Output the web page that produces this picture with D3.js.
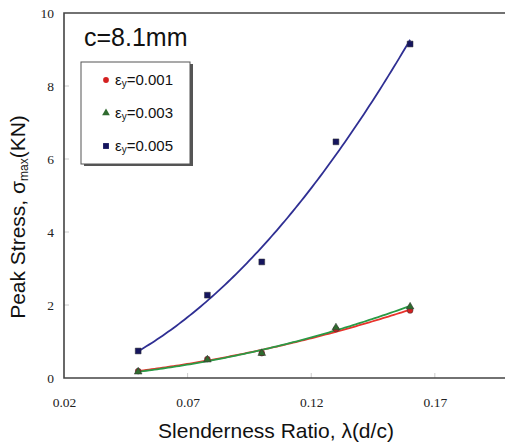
<!DOCTYPE html>
<html>
<head>
<meta charset="utf-8">
<script src="https://cdn.jsdelivr.net/npm/d3@7"></script>
<style>
  body { margin: 0; background: #fff; }
  .tick text { font-family: "Liberation Serif", "Times New Roman", serif; font-size: 13.5px; fill: #222; }
  .title { font-family: "Liberation Sans", Arial, sans-serif; fill: #111; }
</style>
</head>
<body>
<div id="vis"></div>
<script>
// slenderness ratio values (x)
var ratios = [0.05, 0.078, 0.1, 0.13, 0.16];
// peak stress per yield strain
var stress001 = [0.19, 0.52, 0.68, 1.34, 1.85];
var stress003 = [0.17, 0.50, 0.68, 1.38, 1.95];
var stress005 = [0.74, 2.27, 3.18, 6.47, 9.15];
var seriesNames = ["0.001", "0.003", "0.005"];
var xTicks = [0.02, 0.07, 0.12, 0.17];
var yTicks = [0, 2, 4, 6, 8, 10];

var width = 505, height = 444;
var margin = { left: 64, top: 13, right: -4, bottom: 66 };
var drawWidth = width - margin.left - margin.right;
var drawHeight = height - margin.top - margin.bottom;

var svg = d3.select("#vis").append("svg")
    .attr("width", width)
    .attr("height", height);

var g = svg.append("g")
    .attr("transform", "translate(" + margin.left + "," + margin.top + ")");

var xScale = d3.scaleLinear().domain([0.02, 0.2]).range([0, drawWidth]);
var yScale = d3.scaleLinear().domain([0, 10]).range([drawHeight, 0]);

// inner faint ticks
g.selectAll(".ytick").data(yTicks.slice(1, -1)).enter().append("line")
    .attr("x1", 0).attr("x2", 5)
    .attr("y1", function(d) { return yScale(d); })
    .attr("y2", function(d) { return yScale(d); })
    .attr("stroke", "#ccc");
g.selectAll(".xtick").data(xTicks.slice(1)).enter().append("line")
    .attr("y1", drawHeight).attr("y2", drawHeight - 5)
    .attr("x1", function(d) { return xScale(d); })
    .attr("x2", function(d) { return xScale(d); })
    .attr("stroke", "#ccc");

var xAxis = d3.axisBottom(xScale).tickValues(xTicks).tickSize(0).tickPadding(19)
    .tickFormat(d3.format(".2f"));
var yAxis = d3.axisLeft(yScale).tickValues(yTicks).tickSize(0).tickPadding(10)
    .tickFormat(d3.format("d"));

var xg = g.append("g").attr("transform", "translate(0," + drawHeight + ")").call(xAxis);
var yg = g.append("g").call(yAxis);
xg.select(".domain").remove();
yg.select(".domain").remove();

// frame
g.append("path")
    .attr("d", "M" + drawWidth + ",0H0V" + drawHeight + "H" + drawWidth)
    .attr("fill", "none")
    .attr("stroke", "#444")
    .attr("stroke-width", 1.6);

// quadratic least-squares trend line
var quadFit = function(xs, ys) {
    var s = [0, 0, 0, 0, 0], t = [0, 0, 0];
    xs.forEach(function(x, i) {
        for (var k = 0; k < 5; k++) s[k] += Math.pow(x, k);
        for (var k2 = 0; k2 < 3; k2++) t[k2] += ys[i] * Math.pow(x, k2);
    });
    var A = [[s[0], s[1], s[2], t[0]], [s[1], s[2], s[3], t[1]], [s[2], s[3], s[4], t[2]]];
    for (var i = 0; i < 3; i++) {
        for (var j = i + 1; j < 3; j++) {
            var f = A[j][i] / A[i][i];
            for (var c = i; c < 4; c++) A[j][c] -= f * A[i][c];
        }
    }
    var b = [0, 0, 0];
    for (var r = 2; r >= 0; r--) {
        var v = A[r][3];
        for (var c2 = r + 1; c2 < 3; c2++) v -= A[r][c2] * b[c2];
        b[r] = v / A[r][r];
    }
    return function(x) { return b[0] + b[1] * x + b[2] * x * x; };
};

var series = [
    { values: stress001, line: "#e8332c", fill: "#d42020", shape: d3.symbolCircle, size: 26 },
    { values: stress003, line: "#2a9a45", fill: "#2f6b2f", shape: d3.symbolTriangle, size: 26 },
    { values: stress005, line: "#2f2f93", fill: "#15155e", shape: d3.symbolSquare, size: 34 }
];

var line = d3.line()
    .x(function(d) { return xScale(d[0]); })
    .y(function(d) { return yScale(d[1]); });

series.forEach(function(s) {
    var fit = quadFit(ratios, s.values);
    var pts = d3.range(0, 101).map(function(i) {
        var x = ratios[0] + (ratios[ratios.length - 1] - ratios[0]) * i / 100;
        return [x, fit(x)];
    });
    g.append("path")
        .datum(pts)
        .attr("fill", "none")
        .attr("stroke", s.line)
        .attr("stroke-width", 1.8)
        .attr("d", line);
});

series.forEach(function(s) {
    g.selectAll(null).data(s.values).enter().append("path")
        .attr("d", d3.symbol().type(s.shape).size(s.size))
        .attr("transform", function(d, i) {
            return "translate(" + xScale(ratios[i]) + "," + yScale(d) + ")";
        })
        .attr("fill", s.fill)
        .attr("stroke", "#333")
        .attr("stroke-width", 0.5);
});

// annotation
svg.append("text")
    .attr("class", "title")
    .attr("x", 84).attr("y", 46)
    .style("font-size", "25px")
    .text("c=8.1mm");

// legend box with shadow
svg.append("rect").attr("x", 84).attr("y", 64).attr("width", 109).attr("height", 102)
    .attr("fill", "#555");
svg.append("rect").attr("x", 81).attr("y", 62).attr("width", 109).attr("height", 102)
    .attr("fill", "#fff").attr("stroke", "#555").attr("stroke-width", 1);

series.forEach(function(s, i) {
    var y = 80 + i * 33;
    svg.append("path")
        .attr("d", d3.symbol().type(s.shape).size(s.size))
        .attr("transform", "translate(106," + y + ")")
        .attr("fill", s.fill);
    var t = svg.append("text")
        .attr("class", "title")
        .attr("x", 115).attr("y", y + 5)
        .style("font-size", "15px");
    t.append("tspan").text("\u03b5");
    t.append("tspan").attr("dy", 2).style("font-size", "10px").text("y");
    t.append("tspan").attr("dy", -2).text("=" + seriesNames[i]);
});

// axis titles
svg.append("text")
    .attr("class", "title")
    .attr("x", 276).attr("y", 438)
    .attr("text-anchor", "middle")
    .style("font-size", "21px")
    .text("Slenderness Ratio, \u03bb(d/c)");

var yt = svg.append("text")
    .attr("class", "title")
    .attr("transform", "translate(25,217) rotate(-90)")
    .attr("text-anchor", "middle")
    .style("font-size", "21px");
yt.append("tspan").text("Peak Stress, \u03c3");
yt.append("tspan").attr("dy", 3).style("font-size", "12px").text("max");
yt.append("tspan").attr("dy", -3).text("(KN)");
</script>
</body>
</html>
